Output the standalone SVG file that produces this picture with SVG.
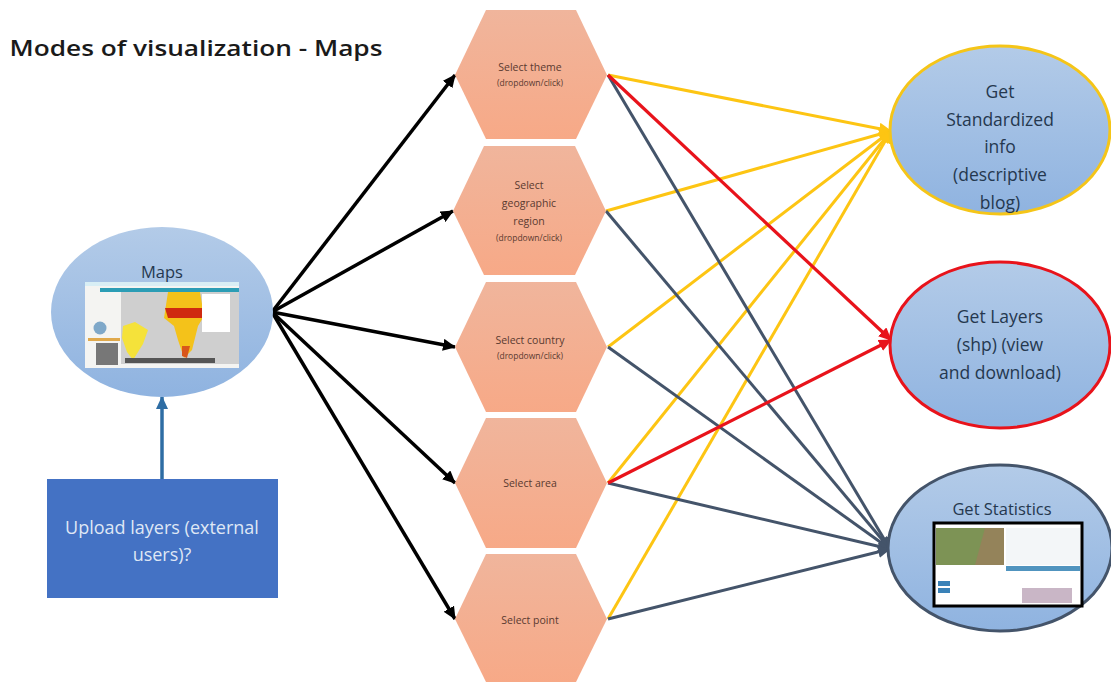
<svg xmlns="http://www.w3.org/2000/svg" width="1111" height="682" viewBox="0 0 1111 682">
<style>
text{font-family:"Open Sans","Liberation Sans",sans-serif;text-anchor:middle}
.hex{fill:url(#hg)}
.ht{font-size:10.5px;fill:#5a3a30}
.hs{font-size:8.5px;fill:#5a3a30}
.el{font-size:17.5px;fill:#25384f}
.ell{fill:url(#eg);stroke-width:3}
.k{stroke:#000;stroke-width:3.5;fill:none;marker-end:url(#ak)}
.y{stroke:#fdc513;stroke-width:3;fill:none;marker-end:url(#ay)}
.r{stroke:#e8131b;stroke-width:3.2;fill:none;marker-end:url(#ar)}
.s{stroke:#44546a;stroke-width:3;fill:none;marker-end:url(#as)}
</style>
<defs>
<linearGradient id="hg" x1="0" y1="0" x2="0" y2="1"><stop offset="0" stop-color="#f0b59c"/><stop offset="1" stop-color="#f7a987"/></linearGradient>
<linearGradient id="eg" x1="0" y1="0" x2="0" y2="1"><stop offset="0" stop-color="#b3cbe8"/><stop offset="1" stop-color="#8fb3e0"/></linearGradient>
<marker id="ak" markerUnits="userSpaceOnUse" markerWidth="14" markerHeight="12" refX="12" refY="6" orient="auto"><path d="M0 0L13 6L0 12z" fill="#000"/></marker>
<marker id="ay" markerUnits="userSpaceOnUse" markerWidth="14" markerHeight="12" refX="12" refY="6" orient="auto"><path d="M0 0L13 6L0 12z" fill="#fdc513"/></marker>
<marker id="ar" markerUnits="userSpaceOnUse" markerWidth="14" markerHeight="12" refX="12" refY="6" orient="auto"><path d="M0 0L13 6L0 12z" fill="#e8131b"/></marker>
<marker id="as" markerUnits="userSpaceOnUse" markerWidth="14" markerHeight="12" refX="12" refY="6" orient="auto"><path d="M0 0L13 6L0 12z" fill="#44546a"/></marker>
<marker id="ab" markerUnits="userSpaceOnUse" markerWidth="14" markerHeight="12" refX="12" refY="6" orient="auto"><path d="M0 0L13 6L0 12z" fill="#2e6da4"/></marker>
</defs>
<rect width="1111" height="682" fill="#fff"/>
<text x="196" y="56" style="font-size:21.5px;font-weight:600;fill:#1a1a1a" textLength="373" lengthAdjust="spacingAndGlyphs">Modes of visualization - Maps</text>

<g id="connectors">
<path class="k" d="M272 312L455 75"/>
<path class="k" d="M272 312L453 211"/>
<path class="k" d="M272 312L455 347"/>
<path class="k" d="M272 312L455 483"/>
<path class="k" d="M272 312L455 619"/>
<path class="y" d="M608 75L891 131"/>
<path class="y" d="M606 211L891 131"/>
<path class="y" d="M608 347L891 131"/>
<path class="y" d="M608 483L891 131"/>
<path class="y" d="M608 619L891 131"/>
<path class="s" d="M608 75L890 549"/>
<path class="s" d="M606 211L890 549"/>
<path class="s" d="M608 347L890 549"/>
<path class="s" d="M608 483L890 549"/>
<path class="s" d="M608 619L890 549"/>
<path class="r" d="M608 75L891 340"/>
<path class="r" d="M608 483L891 340"/>
<path d="M162 479L162 397" fill="none" stroke="#2e6da4" stroke-width="3.5" marker-end="url(#ab)"/>
</g>

<g id="hex-theme"><path class="hex" d="M486 10H576L607 75L576 139H486L455 75z"/><text class="ht" x="530" y="71">Select theme</text><text class="hs" x="530" y="86">(dropdown/click)</text></g>
<g id="hex-region"><path class="hex" d="M484 146H575L606 211L575 275H484L453 211z"/><text class="ht" x="529" y="189">Select</text><text class="ht" x="529" y="207">geographic</text><text class="ht" x="529" y="225">region</text><text class="hs" x="529" y="241">(dropdown/click)</text></g>
<g id="hex-country"><path class="hex" d="M486 282H576L607 347L576 412H486L455 347z"/><text class="ht" x="530" y="344">Select country</text><text class="hs" x="530" y="359">(dropdown/click)</text></g>
<g id="hex-area"><path class="hex" d="M486 418H576L607 483L576 548H486L455 483z"/><text class="ht" x="530" y="487">Select area</text></g>
<g id="hex-point"><path class="hex" d="M486 554H576L607 619L576 682H486L455 619z"/><text class="ht" x="530" y="624">Select point</text></g>

<g id="node-maps">
<ellipse cx="162" cy="312" rx="111" ry="85" fill="url(#eg)"/>
<text class="el" x="162" y="278" style="font-size:16.5px">Maps</text>
<rect x="85" y="282" width="154" height="86" fill="#f4f4f2"/>
<rect x="85" y="282" width="154" height="4" fill="#d8eef5"/>
<rect x="100" y="288" width="139" height="4" fill="#2b9db5"/>
<rect x="121" y="292" width="118" height="72" fill="#cfcfcf"/>
<path d="M123 326L135 322L148 330L143 344L133 360L127 352L122 338z" fill="#f5e23a"/>
<path d="M168 292H200L204 316L198 326L192 350L184 358L178 340L174 326L164 318z" fill="#f4c21a"/>
<path d="M165 308L204 308L204 318L168 318z" fill="#cf2a10"/>
<path d="M182 346L190 346L187 358L182 356z" fill="#d9561a"/>
<rect x="202" y="294" width="28" height="38" fill="#fff"/>
<circle cx="100" cy="328" r="6.5" fill="#7fa8c9"/>
<rect x="88" y="338" width="32" height="3" fill="#e0a94c"/>
<rect x="96" y="343" width="22" height="22" fill="#777"/>
<rect x="125" y="358" width="90" height="5" fill="#555"/>
</g>

<g id="node-upload"><rect x="47" y="479" width="231" height="119" fill="#4472c4"/><text x="162" y="534" style="font-size:18px;fill:#dfe7f5">Upload layers (external</text><text x="162" y="561" style="font-size:18px;fill:#dfe7f5">users)?</text></g>

<g id="node-info"><ellipse class="ell" cx="1000" cy="130" rx="110" ry="84" stroke="#f5c518"/>
<text class="el" x="1000" y="98">Get</text><text class="el" x="1000" y="126">Standardized</text><text class="el" x="1000" y="153">info</text><text class="el" x="1000" y="181">(descriptive</text><text class="el" x="1000" y="209">blog)</text></g>

<g id="node-layers"><ellipse class="ell" cx="1000" cy="345" rx="110" ry="83" stroke="#e8131b"/>
<text class="el" x="1000" y="323">Get Layers</text><text class="el" x="1000" y="351">(shp) (view</text><text class="el" x="1000" y="379">and download)</text></g>

<g id="node-stats"><ellipse class="ell" cx="1000" cy="548" rx="112" ry="83" stroke="#44546a"/>
<text class="el" x="1002" y="515" style="font-size:16.5px">Get Statistics</text>
<rect x="934" y="523" width="148" height="83" fill="#fff" stroke="#000" stroke-width="3"/>
<rect x="936" y="528" width="68" height="37" fill="#7d9355"/>
<path d="M985 528H1004V565H975z" fill="#94835a"/>
<rect x="1006" y="528" width="74" height="37" fill="#f3f6f8"/>
<rect x="1006" y="566" width="74" height="5" fill="#5094bf"/>
<rect x="938" y="581" width="12" height="5" fill="#3a82b8"/>
<rect x="938" y="588" width="12" height="5" fill="#3a82b8"/>
<rect x="1022" y="588" width="50" height="15" fill="#c9b6c6"/>
</g>
</svg>
